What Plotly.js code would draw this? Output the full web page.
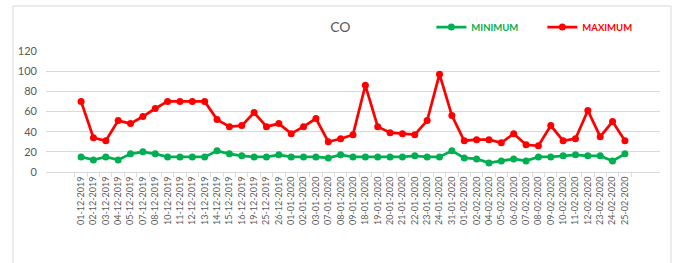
<!DOCTYPE html>
<html>
<head>
<meta charset="utf-8">
<script src="https://cdn.plot.ly/plotly-3.0.1.min.js"></script>
<style>html,body{margin:0;padding:0;background:#fff;}#chart{width:674px;height:263px;}</style>
</head>
<body>
<div id="chart"></div>
<script>
const dates = ["01-12-2019","02-12-2019","03-12-2019","04-12-2019","05-12-2019","07-12-2019","08-12-2019","10-12-2019","11-12-2019","12-12-2019","13-12-2019","14-12-2019","15-12-2019","16-12-2019","19-12-2019","25-12-2019","26-12-2019","01-01-2020","02-01-2020","03-01-2020","07-01-2020","08-01-2020","09-01-2020","18-01-2020","19-01-2020","20-01-2020","21-01-2020","22-01-2020","23-01-2020","24-01-2020","31-01-2020","01-02-2020","02-02-2020","04-02-2020","05-02-2020","06-02-2020","07-02-2020","08-02-2020","09-02-2020","10-02-2020","11-02-2020","12-02-2020","23-02-2020","24-02-2020","25-02-2020"];
const minimum = [15,12,15,12,18,20,18,15,15,15,15,21,18,16,15,15,17,15,15,15,14,17,15,15,15,15,15,16,15,15,21,14,13,9,11,13,11,15,15,16,17,16,16,11,18];
const maximum = [70,34,31,51,48,55,63,70,70,70,70,52,45,46,59,45,48,38,45,53,30,33,37,86,45,39,38,37,51,97,56,31,32,32,29,38,27,26,46,31,33,61,35,50,31];
const chartTitle = "CO";
const seriesNames = ["MINIMUM","MAXIMUM"];
const seriesColors = ["#00B050","#FF0000"];

const traces = [minimum, maximum].map((vals, i) => ({
  x: dates, y: vals,
  name: "<b><span style='color:" + seriesColors[i] + "'>" + seriesNames[i] + "</span></b>",
  type: "scatter", mode: "lines+markers",
  line: {color: seriesColors[i], width: 2.75},
  marker: {color: seriesColors[i], size: 7, symbol: "circle"}
}));

const layout = {
  width: 674, height: 263,
  margin: {l: 46, r: 14, t: 51, b: 91, pad: 0, autoexpand: false},
  paper_bgcolor: "#ffffff", plot_bgcolor: "#ffffff",
  font: {family: "Lato, 'Open Sans', sans-serif", color: "#595959"},
  title: {text: chartTitle, font: {size: 14, color: "#595959", family: "Lato, sans-serif"},
          x: 0.505, xref: "container", xanchor: "center", y: 0.897, yref: "container", yanchor: "middle"},
  showlegend: true,
  legend: {orientation: "h", xref: "container", yref: "container", x: 0.64, xanchor: "left", y: 0.897, yanchor: "middle",
           font: {size: 9.5, family: "Lato, sans-serif"}, entrywidth: 66, entrywidthmode: "pixels",
           itemwidth: 30, bgcolor: "rgba(0,0,0,0)", borderwidth: 0},
  xaxis: {type: "category", tickmode: "linear", tick0: 0, dtick: 1, tickangle: -90,
          tickfont: {size: 9, color: "#595959", family: "Lato, sans-serif"},
          showgrid: false, showline: true, linecolor: "#d9d9d9", linewidth: 1,
          ticks: "outside", tickson: "boundaries", ticklen: 4, tickcolor: "#d9d9d9", zeroline: false,
          automargin: false},
  yaxis: {range: [0, 120], dtick: 20, tick0: 0, showgrid: true, gridcolor: "#d9d9d9", gridwidth: 1,
          zeroline: false, showline: false, ticks: "", ticklabelstandoff: 8,
          tickfont: {size: 11, color: "#595959", family: "Lato, sans-serif"}, automargin: false},
  shapes: [{type: "rect", xref: "paper", yref: "paper", x0: -0.0537, x1: 1.0179, y0: -0.85, y1: 1.372,
            line: {color: "#d9d9d9", width: 1}, fillcolor: "rgba(0,0,0,0)", layer: "below"}]
};

Plotly.newPlot("chart", traces, layout, {displayModeBar: false, staticPlot: true});
</script>
</body>
</html>
